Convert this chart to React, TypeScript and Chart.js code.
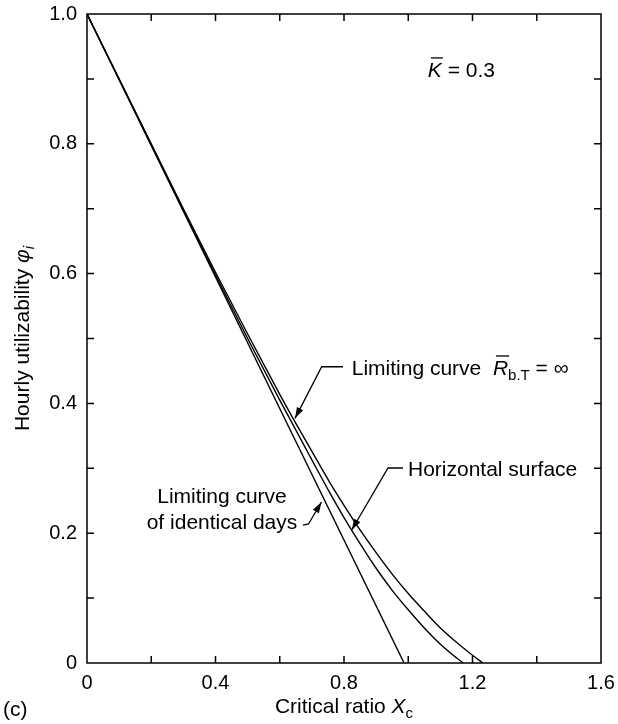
import React, { useEffect, useRef } from "react";
import { Chart, registerables } from "chart.js";

Chart.register(...registerables);

// ---- data ----
const xTickLabels = ["0", "0.4", "0.8", "1.2", "1.6"];
const yTickLabels = ["0", "0.2", "0.4", "0.6", "0.8", "1.0"];

const identicalDaysX = [0, 0.987];
const identicalDaysY = [1, 0];

const horizontalX = [0, 0.1, 0.2, 0.3, 0.4, 0.5, 0.6, 0.7, 0.756, 0.8, 0.85, 0.9, 0.95, 1.0, 1.05, 1.1, 1.15, 1.171];
const horizontalY = [1, 0.899, 0.798, 0.697, 0.598, 0.5, 0.405, 0.313, 0.262, 0.224, 0.184, 0.146, 0.112, 0.082, 0.054, 0.029, 0.008, 0];

const limitingX = [0, 0.1, 0.2, 0.3, 0.4, 0.5, 0.6, 0.647, 0.7, 0.756, 0.8, 0.85, 0.9, 0.95, 1.0, 1.05, 1.1, 1.15, 1.2, 1.232];
const limitingY = [1, 0.9, 0.8, 0.7, 0.602, 0.507, 0.414, 0.372, 0.326, 0.278, 0.243, 0.205, 0.17, 0.137, 0.107, 0.08, 0.054, 0.032, 0.012, 0];

const FONT = '"Liberation Sans", Arial, Helvetica, sans-serif';
const F = (size: number, italic = false) => `${italic ? "italic " : ""}${size}px ${FONT}`;

const toPoints = (xs: number[], ys: number[]) => xs.map((x, i) => ({ x, y: ys[i] }));

type Seg = { text: string; font: string; dy?: number; overline?: boolean };

function drawRich(ctx: CanvasRenderingContext2D, segs: Seg[], x: number, y: number, align: "left" | "center") {
  ctx.textAlign = "left";
  ctx.textBaseline = "alphabetic";
  const widths = segs.map((s) => {
    ctx.font = s.font;
    return ctx.measureText(s.text).width;
  });
  const total = widths.reduce((a, b) => a + b, 0);
  let cx = align === "center" ? x - total / 2 : x;
  segs.forEach((s, i) => {
    ctx.font = s.font;
    ctx.fillText(s.text, cx, y + (s.dy || 0));
    if (s.overline) {
      ctx.beginPath();
      ctx.lineWidth = 1.3;
      const oy = y - 19;
      ctx.moveTo(cx + 3, oy);
      ctx.lineTo(cx + widths[i] + 1, oy);
      ctx.stroke();
    }
    cx += widths[i];
  });
}

function drawArrow(ctx: CanvasRenderingContext2D, pts: [number, number][]) {
  ctx.beginPath();
  ctx.lineWidth = 1.3;
  ctx.moveTo(pts[0][0], pts[0][1]);
  for (let i = 1; i < pts.length; i++) ctx.lineTo(pts[i][0], pts[i][1]);
  ctx.stroke();
  const [x1, y1] = pts[pts.length - 2];
  const [x2, y2] = pts[pts.length - 1];
  const ang = Math.atan2(y2 - y1, x2 - x1);
  const L = 11, W = 3.5;
  ctx.beginPath();
  ctx.moveTo(x2, y2);
  ctx.lineTo(x2 - L * Math.cos(ang) + W * Math.sin(ang), y2 - L * Math.sin(ang) - W * Math.cos(ang));
  ctx.lineTo(x2 - L * Math.cos(ang) - W * Math.sin(ang), y2 - L * Math.sin(ang) + W * Math.cos(ang));
  ctx.closePath();
  ctx.fill();
}

const decorPlugin = {
  id: "decor",
  afterDraw(chart: any) {
    const { ctx, chartArea: a, scales } = chart;
    const px = (v: number) => scales.x.getPixelForValue(v);
    const py = (v: number) => scales.y.getPixelForValue(v);
    ctx.save();
    ctx.strokeStyle = "#000";
    ctx.fillStyle = "#000";
    ctx.lineWidth = 1.5;
    ctx.strokeRect(a.left, a.top, a.right - a.left, a.bottom - a.top);
    ctx.beginPath();
    for (let i = 1; i < 10; i++) {
      const y = py(i / 10);
      ctx.moveTo(a.left, y);
      ctx.lineTo(a.left + 7, y);
      ctx.moveTo(a.right, y);
      ctx.lineTo(a.right - 7, y);
    }
    for (let i = 1; i < 8; i++) {
      const x = px(i * 0.2);
      ctx.moveTo(x, a.bottom);
      ctx.lineTo(x, a.bottom - 7);
      ctx.moveTo(x, a.top);
      ctx.lineTo(x, a.top + 7);
    }
    ctx.stroke();

    // K label
    drawRich(ctx, [
      { text: "K", font: F(21, true), overline: true },
      { text: " = 0.3", font: F(21) },
    ], px(1.061), py(0.903), "left");

    // Limiting curve R = inf
    drawRich(ctx, [
      { text: "Limiting curve  ", font: F(21) },
      { text: "R", font: F(21, true), overline: true },
      { text: "b.T", font: F(15), dy: 5 },
      { text: " = \u221E", font: F(21) },
    ], px(0.824), py(0.4438), "left");
    drawArrow(ctx, [[px(0.797), py(0.4565)], [px(0.7306), py(0.4565)], [px(0.6475), py(0.377)]]);

    // Horizontal surface
    drawRich(ctx, [{ text: "Horizontal surface", font: F(21) }], px(0.9992), py(0.2886), "left");
    drawArrow(ctx, [[px(0.9837), py(0.3005)], [px(0.937), py(0.3005)], [px(0.824), py(0.2049)]]);

    // Identical days
    drawRich(ctx, [{ text: "Limiting curve", font: F(21) }], px(0.4202), py(0.2465), "center");
    drawRich(ctx, [{ text: "of identical days", font: F(21) }], px(0.4202), py(0.2065), "center");
    drawArrow(ctx, [[px(0.6724), py(0.2126)], [px(0.6895), py(0.2142)], [px(0.73), py(0.2481)]]);

    // x title
    drawRich(ctx, [
      { text: "Critical ratio ", font: F(21) },
      { text: "X", font: F(21, true) },
      { text: "c", font: F(15), dy: 5 },
    ], (a.left + a.right) / 2, 713, "center");

    // (c)
    drawRich(ctx, [{ text: "(c)", font: F(21) }], 3, 716, "left");

    // y title
    ctx.save();
    ctx.translate(29, (a.top + a.bottom) / 2);
    ctx.rotate(-Math.PI / 2);
    drawRich(ctx, [
      { text: "Hourly utilizability ", font: F(21) },
      { text: "\u03C6", font: F(21, true) },
      { text: "i", font: F(15, true), dy: 5 },
    ], 0, 0, "center");
    ctx.restore();

    ctx.restore();
  },
};

export default function App() {
  const ref = useRef<HTMLCanvasElement | null>(null);
  useEffect(() => {
    if (!ref.current) return;
    const lineStyle = {
      borderColor: "#000",
      borderWidth: 1.4,
      pointRadius: 0,
      fill: false,
      cubicInterpolationMode: "monotone" as const,
    };
    const chart = new Chart(ref.current, {
      type: "line",
      data: {
        datasets: [
          { label: "Limiting curve of identical days", data: toPoints(identicalDaysX, identicalDaysY), ...lineStyle },
          { label: "Horizontal surface", data: toPoints(horizontalX, horizontalY), ...lineStyle },
          { label: "Limiting curve Rb.T = ∞", data: toPoints(limitingX, limitingY), ...lineStyle },
        ],
      },
      options: {
        animation: false,
        responsive: false,
        devicePixelRatio: 1,
        layout: { padding: { top: 14, right: 17, left: 0, bottom: 0 } },
        plugins: { legend: { display: false }, tooltip: { enabled: false } },
        scales: {
          x: {
            type: "linear",
            min: 0,
            max: 1.6,
            grid: { display: false, drawTicks: false },
            border: { display: false },
            ticks: {
              stepSize: 0.4,
              padding: 8,
              color: "#000",
              font: { family: FONT, size: 20 },
              maxRotation: 0,
              callback: (_v: any, i: number) => xTickLabels[i],
            },
            afterFit: (s: any) => {
              s.height = 61;
              s.paddingLeft = 0;
              s.paddingRight = 0;
              s.paddingTop = 0;
              s.paddingBottom = 0;
            },
          },
          y: {
            type: "linear",
            min: 0,
            max: 1,
            grid: { display: false, drawTicks: false },
            border: { display: false },
            ticks: {
              stepSize: 0.2,
              padding: 10,
              color: "#000",
              font: { family: FONT, size: 20 },
              callback: (_v: any, i: number) => yTickLabels[i],
            },
            afterFit: (s: any) => {
              s.width = 87;
              s.paddingLeft = 0;
              s.paddingRight = 0;
              s.paddingTop = 0;
              s.paddingBottom = 0;
            },
          },
        },
      },
      plugins: [decorPlugin],
    });
    return () => chart.destroy();
  }, []);
  return (
    <div style={{ position: "absolute", left: 0, top: 0, width: 618, height: 724, background: "#fff" }}>
      <canvas ref={ref} width={618} height={724} />
    </div>
  );
}
